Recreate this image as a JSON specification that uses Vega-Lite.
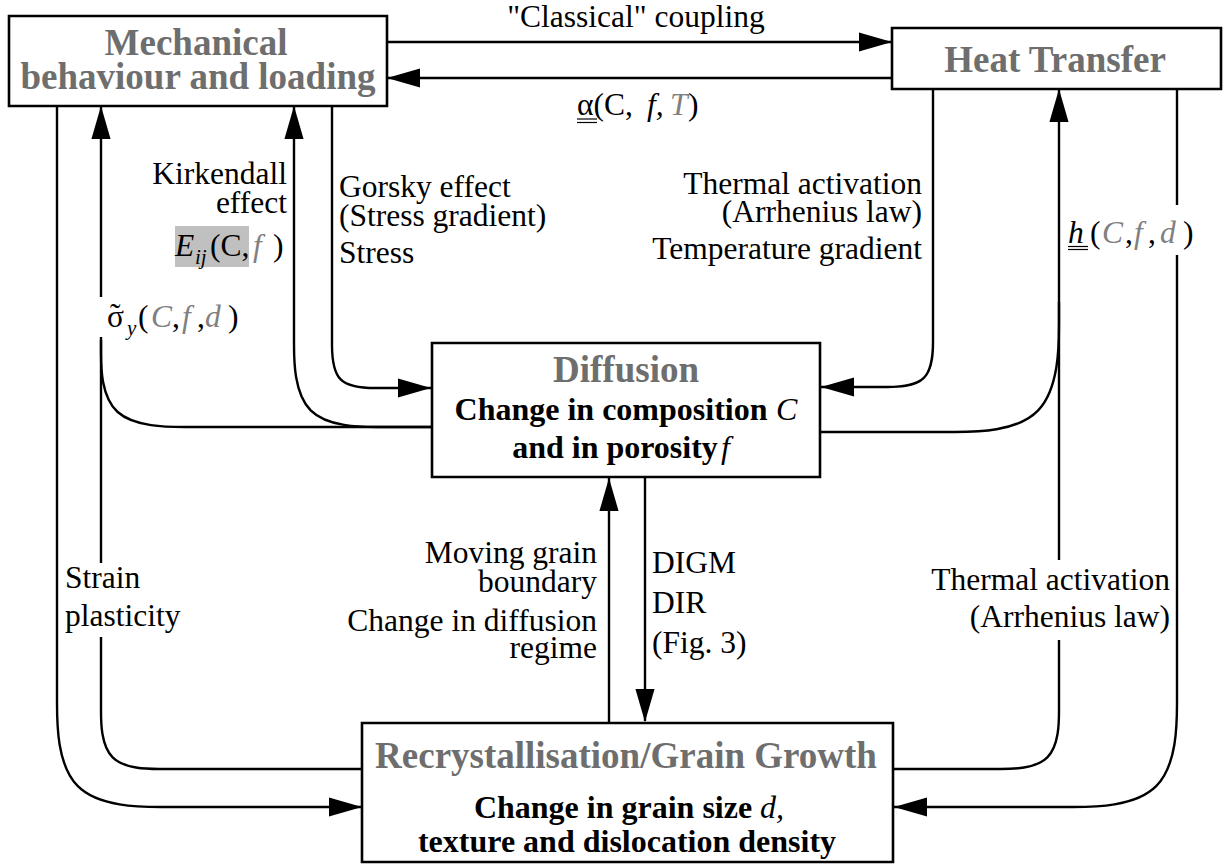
{
 "$schema": "https://vega.github.io/schema/vega-lite/v6.json",
 "width": 1224, "height": 866,
 "autosize": {"type": "none"},
 "padding": 0,
 "background": "white",
 "config": {"view": {"stroke": null}},
 "datasets": {
  "boxes": [
   {"x": 9, "x2": 387, "y": 16, "y2": 106},
   {"x": 892, "x2": 1221, "y": 28, "y2": 89},
   {"x": 432, "x2": 820, "y": 343, "y2": 477},
   {"x": 362, "x2": 893, "y": 723, "y2": 862}
  ],
  "hl": [{"x": 175, "x2": 249, "y": 226, "y2": 267}],
  "paths": [
   {"p":"p1","i":0,"x":387,"y":42},{"p":"p1","i":1,"x":892,"y":42},
   {"p":"p2","i":0,"x":892,"y":78},{"p":"p2","i":1,"x":387,"y":78},
   {"p":"p3","i":0,"x":57,"y":106},{"p":"p3","i":1,"x":57,"y":682},{"p":"p3","i":2,"x":57,"y":682},{"p":"p3","i":3,"x":57,"y":682},{"p":"p3","i":4,"x":57,"y":807},{"p":"p3","i":5,"x":182,"y":807},{"p":"p3","i":6,"x":182,"y":807},{"p":"p3","i":7,"x":182,"y":807},{"p":"p3","i":8,"x":362,"y":807},
   {"p":"p4a","i":0,"x":101,"y":106},{"p":"p4a","i":1,"x":101,"y":297},
   {"p":"p4b","i":0,"x":101,"y":340},{"p":"p4b","i":1,"x":101,"y":563},
   {"p":"p4c","i":0,"x":101,"y":637},{"p":"p4c","i":1,"x":101,"y":699},{"p":"p4c","i":2,"x":101,"y":699},{"p":"p4c","i":3,"x":101,"y":699},{"p":"p4c","i":4,"x":101,"y":769},{"p":"p4c","i":5,"x":171,"y":769},{"p":"p4c","i":6,"x":171,"y":769},{"p":"p4c","i":7,"x":171,"y":769},{"p":"p4c","i":8,"x":362,"y":769},
   {"p":"p5","i":0,"x":432,"y":427},{"p":"p5","i":1,"x":201,"y":427},{"p":"p5","i":2,"x":201,"y":427},{"p":"p5","i":3,"x":201,"y":427},{"p":"p5","i":4,"x":101,"y":427},{"p":"p5","i":5,"x":101,"y":337},{"p":"p5","i":6,"x":101,"y":337},{"p":"p5","i":7,"x":101,"y":337},
   {"p":"p6","i":0,"x":294,"y":106},{"p":"p6","i":1,"x":294,"y":327},{"p":"p6","i":2,"x":294,"y":327},{"p":"p6","i":3,"x":294,"y":327},{"p":"p6","i":4,"x":294,"y":427},{"p":"p6","i":5,"x":394,"y":427},{"p":"p6","i":6,"x":394,"y":427},{"p":"p6","i":7,"x":394,"y":427},{"p":"p6","i":8,"x":432,"y":427},
   {"p":"p7","i":0,"x":332,"y":106},{"p":"p7","i":1,"x":332,"y":336},{"p":"p7","i":2,"x":332,"y":336},{"p":"p7","i":3,"x":332,"y":336},{"p":"p7","i":4,"x":332,"y":388},{"p":"p7","i":5,"x":384,"y":388},{"p":"p7","i":6,"x":384,"y":388},{"p":"p7","i":7,"x":384,"y":388},{"p":"p7","i":8,"x":431,"y":388},
   {"p":"p8","i":0,"x":933,"y":89},{"p":"p8","i":1,"x":933,"y":332},{"p":"p8","i":2,"x":933,"y":332},{"p":"p8","i":3,"x":933,"y":332},{"p":"p8","i":4,"x":933,"y":387},{"p":"p8","i":5,"x":878,"y":387},{"p":"p8","i":6,"x":878,"y":387},{"p":"p8","i":7,"x":878,"y":387},{"p":"p8","i":8,"x":821,"y":387},
   {"p":"p9","i":0,"x":820,"y":432},{"p":"p9","i":1,"x":934,"y":432},{"p":"p9","i":2,"x":934,"y":432},{"p":"p9","i":3,"x":934,"y":432},{"p":"p9","i":4,"x":1059,"y":432},{"p":"p9","i":5,"x":1059,"y":302},{"p":"p9","i":6,"x":1059,"y":302},{"p":"p9","i":7,"x":1059,"y":302},
   {"p":"p10a","i":0,"x":1059,"y":89},{"p":"p10a","i":1,"x":1059,"y":560},
   {"p":"p10b","i":0,"x":1059,"y":640},{"p":"p10b","i":1,"x":1059,"y":699},{"p":"p10b","i":2,"x":1059,"y":699},{"p":"p10b","i":3,"x":1059,"y":699},{"p":"p10b","i":4,"x":1059,"y":769},{"p":"p10b","i":5,"x":989,"y":769},{"p":"p10b","i":6,"x":989,"y":769},{"p":"p10b","i":7,"x":989,"y":769},{"p":"p10b","i":8,"x":893,"y":769},
   {"p":"p11a","i":0,"x":1177,"y":89},{"p":"p11a","i":1,"x":1177,"y":205},
   {"p":"p11b","i":0,"x":1177,"y":255},{"p":"p11b","i":1,"x":1177,"y":682},{"p":"p11b","i":2,"x":1177,"y":682},{"p":"p11b","i":3,"x":1177,"y":682},{"p":"p11b","i":4,"x":1177,"y":807},{"p":"p11b","i":5,"x":1052,"y":807},{"p":"p11b","i":6,"x":1052,"y":807},{"p":"p11b","i":7,"x":1052,"y":807},{"p":"p11b","i":8,"x":894,"y":807},
   {"p":"p12","i":0,"x":609,"y":723},{"p":"p12","i":1,"x":609,"y":478},
   {"p":"p13","i":0,"x":645,"y":477},{"p":"p13","i":1,"x":645,"y":721}
  ],
  "ul": [
   {"p":"a1","i":0,"x":577,"y":119},{"p":"a1","i":1,"x":597,"y":119},
   {"p":"a2","i":0,"x":577,"y":122.5},{"p":"a2","i":1,"x":597,"y":122.5},
   {"p":"h1","i":0,"x":1068,"y":246.5},{"p":"h1","i":1,"x":1088,"y":246.5},
   {"p":"h2","i":0,"x":1068,"y":249.5},{"p":"h2","i":1,"x":1088,"y":249.5}
  ],
  "heads": [
   {"x":892,"y":42,"dir":"right"},
   {"x":387,"y":78,"dir":"left"},
   {"x":362,"y":807,"dir":"right"},
   {"x":101,"y":106,"dir":"up"},
   {"x":294,"y":106,"dir":"up"},
   {"x":431,"y":388,"dir":"right"},
   {"x":821,"y":387,"dir":"left"},
   {"x":1059,"y":89,"dir":"up"},
   {"x":894,"y":807,"dir":"left"},
   {"x":609,"y":478,"dir":"up"},
   {"x":645,"y":722,"dir":"down"}
  ],
  "titles": [
   {"t":"Mechanical","x":196,"y":55},
   {"t":"behaviour and loading","x":198,"y":89},
   {"t":"Heat Transfer","x":1055,"y":72},
   {"t":"Diffusion","x":626,"y":382},
   {"t":"Recrystallisation/Grain Growth","x":626,"y":768}
  ],
  "bold": [
   {"t":"Change in composition","x":611,"y":420},
   {"t":"and in porosity","x":615,"y":458},
   {"t":"Change in grain size","x":613,"y":818},
   {"t":"texture and dislocation density","x":627,"y":852}
  ],
  "bodyit": [
   {"t":"C","x":776,"y":420},
   {"t":"f","x":721,"y":458},
   {"t":"d,","x":760,"y":818}
  ],
  "labr": [
   {"t":"Kirkendall","x":287,"y":184},
   {"t":"effect","x":287,"y":213},
   {"t":"Thermal activation","x":922,"y":194},
   {"t":"(Arrhenius law)","x":922,"y":222},
   {"t":"Temperature gradient","x":922,"y":259},
   {"t":"Moving grain","x":597,"y":563},
   {"t":"boundary","x":597,"y":592},
   {"t":"Change in diffusion","x":597,"y":631},
   {"t":"regime","x":597,"y":658},
   {"t":"Thermal activation","x":1170,"y":590},
   {"t":"(Arrhenius law)","x":1170,"y":627}
  ],
  "labl": [
   {"t":"Gorsky effect","x":339,"y":197},
   {"t":"(Stress gradient)","x":339,"y":226},
   {"t":"Stress","x":339,"y":263},
   {"t":"DIGM","x":652,"y":573},
   {"t":"DIR","x":652,"y":613},
   {"t":"(Fig. 3)","x":652,"y":653},
   {"t":"Strain","x":65,"y":588},
   {"t":"plasticity","x":65,"y":626},
   {"t":"α(C,","x":577,"y":115},
   {"t":")","x":688,"y":115},
   {"t":"(C,","x":210,"y":256},
   {"t":")","x":273,"y":256},
   {"t":"σ","x":107,"y":327},
   {"t":"˜","x":110,"y":325},
   {"t":"(","x":138,"y":327},
   {"t":",","x":172,"y":327},
   {"t":",","x":197,"y":327},
   {"t":")","x":228,"y":327},
   {"t":"(","x":1090,"y":243},
   {"t":",","x":1125,"y":243},
   {"t":",","x":1148,"y":243},
   {"t":")","x":1183,"y":243}
  ],
  "labc": [
   {"t":"\"Classical\" coupling","x":636,"y":27}
  ],
  "mathit": [
   {"t":"f,","x":647,"y":115},
   {"t":"E","x":175,"y":256},
   {"t":"h","x":1068,"y":243}
  ],
  "grayit": [
   {"t":"T","x":670,"y":115},
   {"t":"f","x":253,"y":256},
   {"t":"C","x":151,"y":327},
   {"t":"f","x":182,"y":327},
   {"t":"d","x":205,"y":327},
   {"t":"C","x":1102,"y":243},
   {"t":"f","x":1134,"y":243},
   {"t":"d","x":1160,"y":243}
  ],
  "subs": [
   {"t":"ij","x":195,"y":264},
   {"t":"y","x":127,"y":335}
  ]
 },
 "encoding": {
  "x": {"field": "x", "type": "quantitative", "scale": {"domain": [0, 1224], "nice": false, "zero": false}, "axis": null},
  "y": {"field": "y", "type": "quantitative", "scale": {"domain": [0, 866], "reverse": true, "nice": false, "zero": false}, "axis": null}
 },
 "layer": [
  {
   "data": {"name": "paths"},
   "mark": {"type": "line", "interpolate": "basis", "strokeWidth": 2.4, "color": "black"},
   "encoding": {"detail": {"field": "p"}, "order": {"field": "i", "type": "quantitative"}}
  },
  {
   "data": {"name": "boxes"},
   "mark": {"type": "rect", "fill": "white", "stroke": "black", "strokeWidth": 2.6},
   "encoding": {"x2": {"field": "x2"}, "y2": {"field": "y2"}}
  },
  {
   "data": {"name": "hl"},
   "mark": {"type": "rect", "fill": "#c0c0c0", "strokeWidth": 0},
   "encoding": {"x2": {"field": "x2"}, "y2": {"field": "y2"}}
  },
  {
   "data": {"name": "ul"},
   "mark": {"type": "line", "strokeWidth": 1.2, "color": "black"},
   "encoding": {"detail": {"field": "p"}, "order": {"field": "i", "type": "quantitative"}}
  },
  {
   "data": {"name": "heads"},
   "mark": {"type": "point", "filled": true, "size": 1089, "color": "black", "strokeWidth": 0, "opacity": 1},
   "encoding": {
    "shape": {"field": "dir", "type": "nominal", "legend": null,
     "scale": {"domain": ["right", "left", "up", "down"],
      "range": ["M0,0L-2,-0.58L-2,0.58Z", "M0,0L2,-0.58L2,0.58Z", "M0,0L-0.58,2L0.58,2Z", "M0,0L-0.58,-2L0.58,-2Z"]}}
   }
  },
  {
   "data": {"name": "titles"},
   "mark": {"type": "text", "font": "Liberation Serif", "fontSize": 37, "fontWeight": "bold", "color": "#6e6e6e", "align": "center", "baseline": "alphabetic"},
   "encoding": {"text": {"field": "t"}}
  },
  {
   "data": {"name": "bold"},
   "mark": {"type": "text", "font": "Liberation Serif", "fontSize": 32, "fontWeight": "bold", "color": "black", "align": "center", "baseline": "alphabetic"},
   "encoding": {"text": {"field": "t"}}
  },
  {
   "data": {"name": "bodyit"},
   "mark": {"type": "text", "font": "Liberation Serif", "fontSize": 32, "fontStyle": "italic", "color": "black", "align": "left", "baseline": "alphabetic"},
   "encoding": {"text": {"field": "t"}}
  },
  {
   "data": {"name": "labr"},
   "mark": {"type": "text", "font": "Liberation Serif", "fontSize": 31.5, "color": "black", "align": "right", "baseline": "alphabetic"},
   "encoding": {"text": {"field": "t"}}
  },
  {
   "data": {"name": "labl"},
   "mark": {"type": "text", "font": "Liberation Serif", "fontSize": 31.5, "color": "black", "align": "left", "baseline": "alphabetic"},
   "encoding": {"text": {"field": "t"}}
  },
  {
   "data": {"name": "labc"},
   "mark": {"type": "text", "font": "Liberation Serif", "fontSize": 31.5, "color": "black", "align": "center", "baseline": "alphabetic"},
   "encoding": {"text": {"field": "t"}}
  },
  {
   "data": {"name": "mathit"},
   "mark": {"type": "text", "font": "Liberation Serif", "fontSize": 31.5, "fontStyle": "italic", "color": "black", "align": "left", "baseline": "alphabetic"},
   "encoding": {"text": {"field": "t"}}
  },
  {
   "data": {"name": "grayit"},
   "mark": {"type": "text", "font": "Liberation Serif", "fontSize": 31.5, "fontStyle": "italic", "color": "#808080", "align": "left", "baseline": "alphabetic"},
   "encoding": {"text": {"field": "t"}}
  },
  {
   "data": {"name": "subs"},
   "mark": {"type": "text", "font": "Liberation Serif", "fontSize": 21, "fontStyle": "italic", "color": "black", "align": "left", "baseline": "alphabetic"},
   "encoding": {"text": {"field": "t"}}
  }
 ]
}
